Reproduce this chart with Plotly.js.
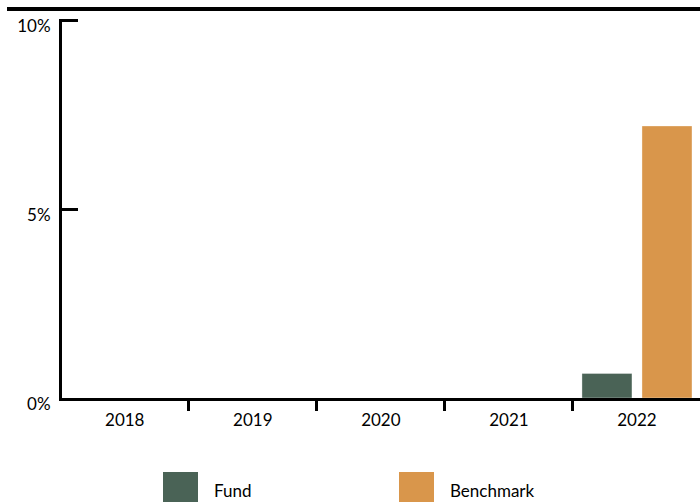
<!DOCTYPE html>
<html>
<head>
<meta charset="utf-8">
<script src="https://cdn.plot.ly/plotly-3.0.1.min.js"></script>
<style>
html,body{margin:0;padding:0;overflow:hidden;background:#fff;}
#chart{width:701px;height:502px;}
</style>
</head>
<body>
<div id="chart"></div>
<script>
var categories = ["2018", "2019", "2020", "2021", "2022"];
var fundValues = [null, null, null, null, 0.65];
var benchmarkValues = [null, null, null, null, 7.2];
var seriesNames = ["Fund", "Benchmark"];
var seriesColors = ["#4a6356", "#d9964b"];
var yTickVals = [0, 5, 10];
var yTickText = ["0%", "5%", "10%"];

var W = 701, H = 502;
var M = {l: 62, r: 0, t: 19, b: 104};
var pw = W - M.l - M.r, ph = H - M.t - M.b;
function px(x) { return (x - M.l) / pw; }
function py(y) { return (H - M.b - y) / ph; }

var FONT = "Lato, 'Open Sans', sans-serif";

var traces = [fundValues, benchmarkValues].map(function (vals, i) {
  return {
    type: "bar",
    x: categories,
    y: vals,
    name: seriesNames[i],
    marker: {color: seriesColors[i], line: {color: "rgba(255,255,255,0.35)", width: 1}},
    hoverinfo: "skip"
  };
});

var shapes = [{
  type: "line", xref: "paper", yref: "paper",
  x0: px(7), x1: px(701), y0: py(9), y1: py(9),
  line: {color: "#000", width: 4}
}];
var annotations = [];
var legendX = [163, 399];
seriesNames.forEach(function (n, i) {
  var x0 = legendX[i];
  shapes.push({
    type: "rect", xref: "paper", yref: "paper",
    x0: px(x0), x1: px(x0 + 35), y0: py(472), y1: py(510),
    fillcolor: seriesColors[i], line: {width: 0}
  });
  annotations.push({
    xref: "paper", yref: "paper", x: px(x0 + 49), y: py(490),
    xanchor: "left", yanchor: "middle", showarrow: false,
    text: n, font: {family: FONT, size: 17, color: "#000"}
  });
});

var layout = {
  width: W, height: H,
  margin: M,
  paper_bgcolor: "#fff", plot_bgcolor: "#fff",
  showlegend: false,
  barmode: "group",
  bargap: 0.0625,
  bargroupgap: 0.167,
  font: {family: FONT, size: 17, color: "#000"},
  xaxis: {
    type: "category",
    range: [-0.49, 4.5],
    tickson: "boundaries",
    ticks: "outside", ticklen: 10, tickwidth: 3, tickcolor: "#000",
    showline: true, linecolor: "#000", linewidth: 3,
    showgrid: false, zeroline: false,
    ticklabelstandoff: 5,
    tickfont: {family: FONT, size: 17, color: "#000"},
    fixedrange: true
  },
  yaxis: {
    range: [0, 10.03],
    tickvals: yTickVals, ticktext: yTickText,
    ticks: "inside", ticklen: 16, tickwidth: 3, tickcolor: "#000",
    showline: true, linecolor: "#000", linewidth: 3,
    showgrid: false, zeroline: false,
    ticklabelshift: 6,
    ticklabelstandoff: 5,
    tickfont: {family: FONT, size: 17, color: "#000"},
    fixedrange: true
  },
  shapes: shapes,
  annotations: annotations
};

Plotly.newPlot("chart", traces, layout, {displayModeBar: false, staticPlot: true});
</script>
</body>
</html>
